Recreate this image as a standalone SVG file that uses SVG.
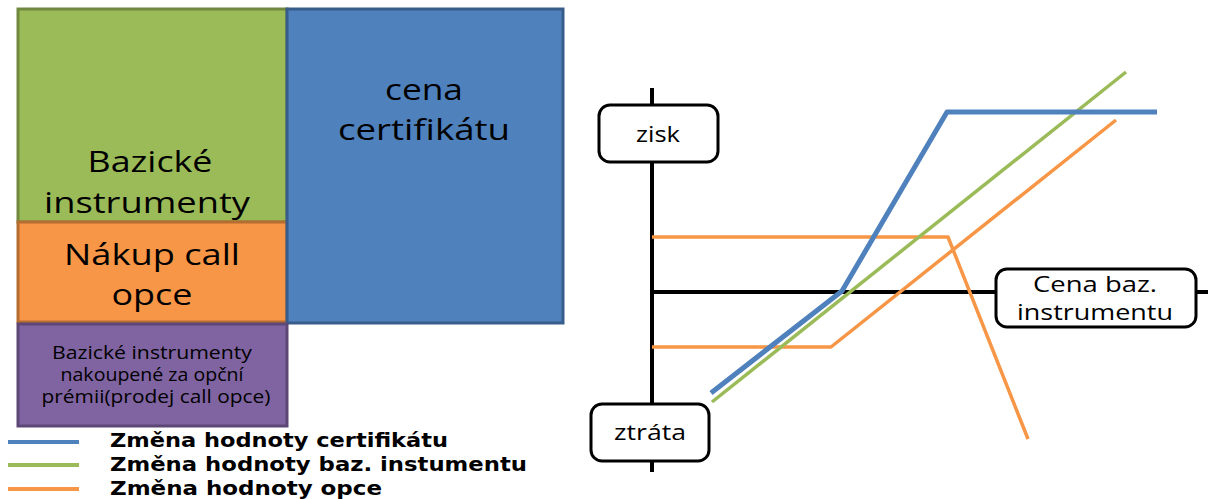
<svg xmlns="http://www.w3.org/2000/svg" width="1214" height="499" viewBox="0 0 1214 499">
  <style>
    .lbl { font-family: "Open Sans", "DejaVu Sans", sans-serif; fill: #000; text-anchor: middle; }
    .big { font-size: 30px; }
    .small { font-size: 18px; }
    .axlbl { font-size: 22px; }
    .legend { font-family: "DejaVu Sans", "Noto Sans", sans-serif; font-weight: bold; font-size: 20px; fill: #000; }
    .block { stroke-width: 3; }
    .tag { fill: #fff; stroke: #000; stroke-width: 3; }
    .axis { stroke: #000; stroke-width: 4; fill: none; }
    .curve { fill: none; stroke-linejoin: round; }
    .blue { stroke: #4F81BD; stroke-width: 5; }
    .green { stroke: #9BBB59; stroke-width: 3.5; }
    .orange { stroke: #F79646; stroke-width: 3.5; }
  </style>

  <rect width="1214" height="499" fill="#fff"/>

  <!-- composition of the certificate -->
  <g id="bazicke-instrumenty">
    <rect class="block" x="18" y="9" width="269" height="213" fill="#9BBB59" stroke="#71893F"/>
    <text class="lbl big" x="150" y="172" textLength="125" lengthAdjust="spacingAndGlyphs">Bazické</text>
    <text class="lbl big" x="147" y="213" textLength="206" lengthAdjust="spacingAndGlyphs">instrumenty</text>
  </g>
  <g id="nakup-call-opce">
    <rect class="block" x="18" y="222" width="269" height="100" fill="#F79646" stroke="#B66D31"/>
    <text class="lbl big" x="152" y="265" textLength="176" lengthAdjust="spacingAndGlyphs">Nákup call</text>
    <text class="lbl big" x="152" y="305" textLength="81" lengthAdjust="spacingAndGlyphs">opce</text>
  </g>
  <g id="cena-certifikatu">
    <rect class="block" x="287" y="9" width="276" height="314" fill="#4F81BD" stroke="#385D8A"/>
    <text class="lbl big" x="424" y="100" textLength="78" lengthAdjust="spacingAndGlyphs">cena</text>
    <text class="lbl big" x="424" y="140" textLength="172" lengthAdjust="spacingAndGlyphs">certifikátu</text>
  </g>
  <g id="prodej-call-opce">
    <rect class="block" x="18" y="324" width="269" height="102" fill="#8064A2" stroke="#5C4776"/>
    <text class="lbl small" x="152" y="359" textLength="200" lengthAdjust="spacingAndGlyphs">Bazické instrumenty</text>
    <text class="lbl small" x="152" y="381" textLength="183" lengthAdjust="spacingAndGlyphs">nakoupené za opční</text>
    <text class="lbl small" x="156" y="403" textLength="229" lengthAdjust="spacingAndGlyphs">prémii(prodej call opce)</text>
  </g>

  <!-- legend -->
  <g id="legend">
    <line x1="8" y1="442" x2="79" y2="442" stroke="#4F81BD" stroke-width="4"/>
    <line x1="8" y1="465" x2="79" y2="465" stroke="#9BBB59" stroke-width="4"/>
    <line x1="8" y1="489" x2="79" y2="489" stroke="#F79646" stroke-width="4"/>
    <text class="legend" x="110" y="447" textLength="338" lengthAdjust="spacingAndGlyphs">Změna hodnoty certifikátu</text>
    <text class="legend" x="110" y="471" textLength="417" lengthAdjust="spacingAndGlyphs">Změna hodnoty baz. instumentu</text>
    <text class="legend" x="110" y="495" textLength="272" lengthAdjust="spacingAndGlyphs">Změna hodnoty opce</text>
  </g>

  <!-- payoff chart -->
  <g id="connectors">
    <line class="axis" x1="652" y1="88" x2="652" y2="472"/>
    <line class="axis" x1="652" y1="292" x2="1208" y2="292"/>
    <polyline class="curve orange" points="652,237 948,237 1028,439"/>
    <polyline class="curve orange" points="652,347 831,347 1116,120"/>
    <polyline class="curve green" points="712,402 1126,72"/>
    <polyline class="curve blue" points="711,393 842,291 947,112 1157,112"/>
  </g>

  <g id="zisk">
    <rect class="tag" x="599" y="105" width="119" height="57" rx="11"/>
    <text class="lbl axlbl" x="658" y="142" textLength="44" lengthAdjust="spacingAndGlyphs">zisk</text>
  </g>
  <g id="ztrata">
    <rect class="tag" x="591" y="404" width="118" height="57" rx="11"/>
    <text class="lbl axlbl" x="650" y="440" textLength="72" lengthAdjust="spacingAndGlyphs">ztráta</text>
  </g>
  <g id="cena-baz-instrumentu">
    <rect class="tag" x="996" y="269" width="200" height="58" rx="11"/>
    <text class="lbl axlbl" x="1095" y="292" textLength="124" lengthAdjust="spacingAndGlyphs">Cena baz.</text>
    <text class="lbl axlbl" x="1095" y="320" textLength="156" lengthAdjust="spacingAndGlyphs">instrumentu</text>
  </g>
</svg>
